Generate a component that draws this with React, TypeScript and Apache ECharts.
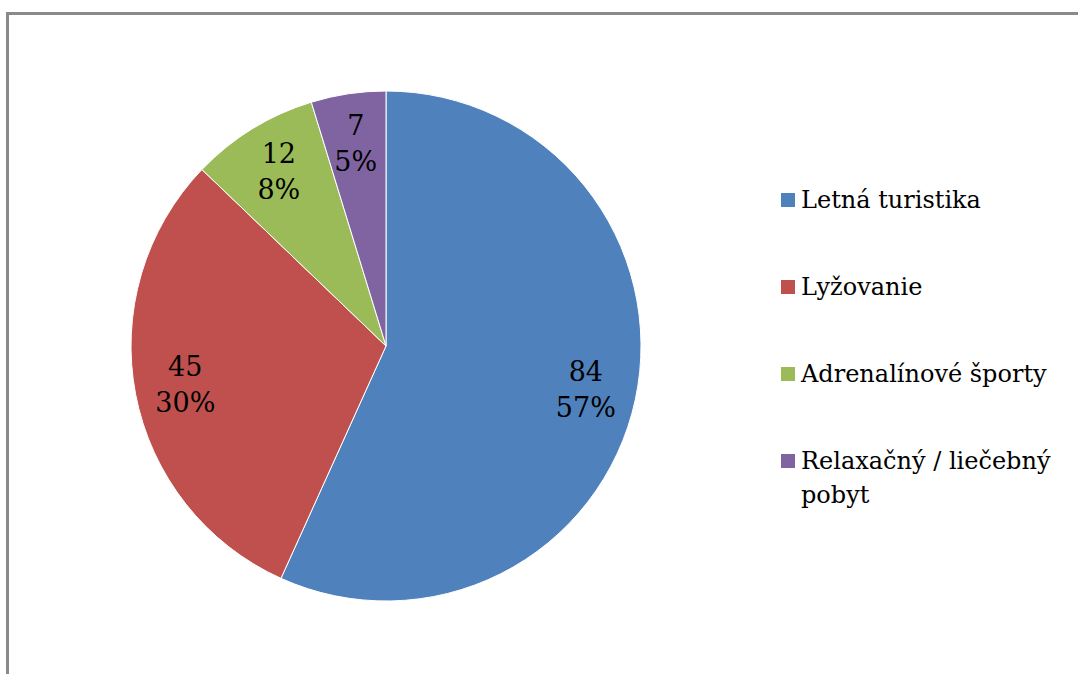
import React, { useEffect, useRef } from "react";
import * as echarts from "echarts";

const categories = ["Letná turistika", "Lyžovanie", "Adrenalínové športy", "Relaxačný / liečebný pobyt"];
const values = [84, 45, 12, 7];
const colors = ["#4F81BD", "#C0504D", "#9BBB59", "#8064A2"];

const SERIF = "DejaVu Serif";

export default function App() {
  const ref = useRef<HTMLDivElement>(null);
  useEffect(() => {
    if (!ref.current) return;
    const chart = echarts.init(ref.current, undefined, { renderer: "svg" });
    const data = categories.map((name, i) => ({ name, value: values[i], itemStyle: { color: colors[i] } }));
    const center = [386, 346];
    const R = 255;
    chart.setOption({
      animation: false,
      backgroundColor: "#fff",
      legend: {
        orient: "vertical",
        left: 779,
        top: 149,
        padding: 0,
        itemWidth: 16,
        itemHeight: 16,
        itemGap: -15,
        icon: "rect",
        formatter: (name: string) => {
          const wrapped = name.replace("liečebný ", "liečebný\n");
          return wrapped.includes("\n") ? "\n" + wrapped : "\n" + wrapped + "\n";
        },
        textStyle: {
          fontFamily: SERIF,
          fontSize: 24,
          color: "#000",
          lineHeight: 34,
        },
        data: categories,
      },
      graphic: [
        { type: "line", shape: { x1: 7.5, y1: 13.5, x2: 1078, y2: 13.5 }, style: { stroke: "#8a8a8a", lineWidth: 3 } },
        { type: "line", shape: { x1: 7.5, y1: 12, x2: 7.5, y2: 674 }, style: { stroke: "#8a8a8a", lineWidth: 3 } },
      ],
      series: [
        {
          type: "pie",
          center,
          radius: [0, R],
          startAngle: 90,
          clockwise: true,
          label: { show: false },
          labelLine: { show: false },
          itemStyle: { borderColor: "#fff", borderWidth: 1 },
          data,
          silent: true,
        },
        {
          type: "pie",
          center,
          radius: [R * 0.58, R],
          startAngle: 90,
          clockwise: true,
          silent: true,
          legendHoverLink: false,
          itemStyle: { color: "transparent", borderWidth: 0 },
          labelLine: { show: false },
          label: {
            show: true,
            position: "inside",
            formatter: (p: any) => `${p.value}\n${Math.round(p.percent)}%`,
            fontFamily: SERIF,
            fontSize: 27,
            lineHeight: 36,
            color: "#000",
          },
          data: categories.map((name, i) => ({ name: name + " ", value: values[i] })),
        },
      ],
    });
    return () => chart.dispose();
  }, []);
  return <div ref={ref} style={{ position: "absolute", left: 0, top: 0, width: 1078, height: 674 }} />;
}
